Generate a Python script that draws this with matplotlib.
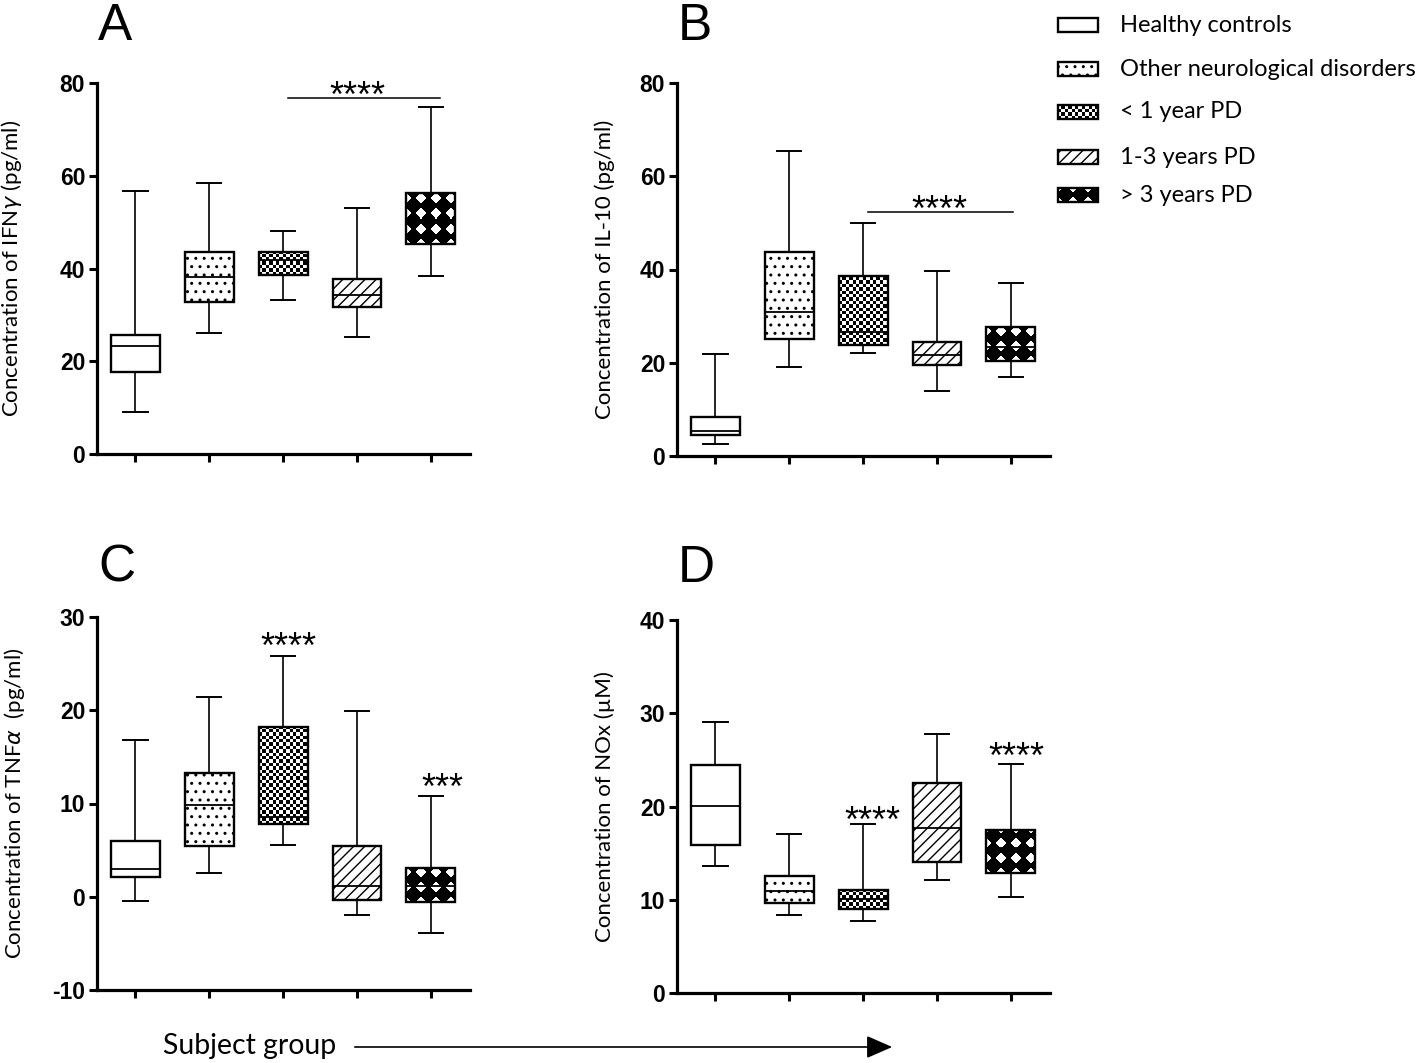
import numpy as np
import matplotlib.pyplot as plt
from matplotlib.patches import Rectangle

# Subject groups (legend order)
groups = ["Healthy controls", "Other neurological disorders", "< 1 year PD",
          "1-3 years PD", "> 3 years PD"]
fills = [None, "..", "checker", "///", "diamond"]

# Box plot summaries: whisker low, Q1, median, Q3, whisker high
ifng_lo = [9.1, 26.0, 33.2, 25.2, 38.4]
ifng_q1 = [17.6, 32.8, 38.6, 31.7, 45.3]
ifng_med = [23.3, 38.1, 41.8, 34.2, 50.2]
ifng_q3 = [25.7, 43.6, 43.6, 37.8, 56.3]
ifng_hi = [56.7, 58.5, 48.1, 53.0, 74.8]

il10_lo = [2.5, 19.1, 22.1, 13.9, 16.9]
il10_q1 = [4.6, 25.2, 23.9, 19.6, 20.4]
il10_med = [5.4, 30.8, 26.7, 21.6, 23.3]
il10_q3 = [8.3, 43.8, 38.6, 24.4, 27.6]
il10_hi = [21.8, 65.4, 49.9, 39.6, 37.0]

tnfa_lo = [-0.5, 2.5, 5.6, -2.0, -3.9]
tnfa_q1 = [2.1, 5.4, 7.8, -0.4, -0.6]
tnfa_med = [3.0, 9.8, 8.6, 1.2, 1.1]
tnfa_q3 = [6.0, 13.3, 18.2, 5.4, 3.1]
tnfa_hi = [16.8, 21.4, 25.8, 19.9, 10.8]

nox_lo = [13.6, 8.4, 7.7, 12.1, 10.3]
nox_q1 = [15.9, 9.7, 9.0, 14.0, 12.9]
nox_med = [20.1, 10.9, 10.1, 17.7, 15.5]
nox_q3 = [24.4, 12.5, 11.0, 22.5, 17.5]
nox_hi = [29.1, 17.1, 18.1, 27.8, 24.6]

# significance: bars (x0, x1, y) and stars (x, y, text)
sig_bars = {"A": [(2.07, 4.13, 76.8)], "B": [(2.07, 4.03, 52.3)], "C": [], "D": []}
sig_stars = {"A": [(3.0, 79.1, "****")], "B": [(3.03, 54.7, "****")],
             "C": [(2.07, 27.7, "****"), (4.15, 12.65, "***")],
             "D": [(2.13, 19.4, "****"), (4.07, 26.3, "****")]}

panels = {
    "A": dict(stats=(ifng_lo, ifng_q1, ifng_med, ifng_q3, ifng_hi),
              ylabel="Concentration of IFN$\\gamma$ (pg/ml)", ylim=(0, 80), step=20),
    "B": dict(stats=(il10_lo, il10_q1, il10_med, il10_q3, il10_hi),
              ylabel="Concentration of IL-10 (pg/ml)", ylim=(0, 80), step=20),
    "C": dict(stats=(tnfa_lo, tnfa_q1, tnfa_med, tnfa_q3, tnfa_hi),
              ylabel="Concentration of TNF$\\alpha$  (pg/ml)", ylim=(-10, 30), step=10),
    "D": dict(stats=(nox_lo, nox_q1, nox_med, nox_q3, nox_hi),
              ylabel="Concentration of NOx (\u00b5M)", ylim=(0, 40), step=10),
}

# layout in pixels: left, top, bottom of each axes, label x, letter position
W, H = 1418, 1063
layout = {"A": (97, 83, 454, -0.196, (98, 40)), "B": (677, 83, 456, -0.166, (678, 40)),
          "C": (97, 617, 990, -0.188, (98, 582)), "D": (677, 620, 993, -0.166, (678, 582))}

label_font = "Lato"
tick_font = "Liberation Sans"

fig = plt.figure(figsize=(W / 100, H / 100), dpi=100)


def texture_fill(ax, patch, kind, zorder=1.9):
    # pixel-sized texture clipped to the box outline
    bb = patch.get_window_extent()
    nx = max(int(round(bb.width)), 1)
    ny = max(int(round(bb.height)), 1)
    U, V = np.meshgrid(np.arange(nx) + 0.5, np.arange(ny) + 0.5)
    if kind == "checker":
        c = 3.4
        img = ((U // c + V // c) % 2).astype(float)
    else:
        s = 15.0
        du = np.abs(U / s - np.round(U / s))
        dv = np.abs(V / s - np.round(V / s))
        img = (du + dv < 0.36).astype(float)
    (x0, y0), (x1, y1) = ax.transData.inverted().transform([[bb.x0, bb.y0], [bb.x1, bb.y1]])
    im = ax.imshow(img, cmap="gray", vmin=0, vmax=1, extent=(x0, x1, y0, y1),
                   origin="lower", aspect="auto", interpolation="nearest", zorder=zorder)
    im.set_clip_path(patch)


def style_patch(ax, patch, fill):
    patch.set_facecolor("white")
    if fill in ("checker", "diamond"):
        patch.set_facecolor("none")
        texture_fill(ax, patch, fill)
    elif fill is not None:
        patch.set_hatch(fill)


for key, p in panels.items():
    left, top, bottom, labx, (lx, ly) = layout[key]
    ax = fig.add_axes([left / W, 1 - bottom / H, 373 / W, (bottom - top) / H])
    lo, q1, med, q3, hi = p["stats"]
    stats = [dict(whislo=lo[i], q1=q1[i], med=med[i], q3=q3[i], whishi=hi[i], fliers=[])
             for i in range(len(groups))]
    res = ax.bxp(stats, positions=range(5), widths=0.66, capwidths=0.33,
                 patch_artist=True, showfliers=False, manage_ticks=False,
                 boxprops=dict(edgecolor="black", linewidth=1.7),
                 whiskerprops=dict(color="black", linewidth=1.2),
                 capprops=dict(color="black", linewidth=1.4),
                 medianprops=dict(color="black", linewidth=1.3))
    ax.set_xlim(-0.52, 4.53)
    ax.set_ylim(*p["ylim"])
    for box, fill in zip(res["boxes"], fills):
        style_patch(ax, box, fill)
    ax.set_xlim(-0.52, 4.53)
    ax.set_ylim(*p["ylim"])

    for x0, x1, y in sig_bars[key]:
        ax.plot([x0, x1], [y, y], color="black", lw=1.1)
    for x, y, s in sig_stars[key]:
        ax.annotate(s, (x, y), xytext=(0, -0.55 * 26), textcoords="offset points",
                    ha="center", va="baseline", fontsize=26, family=tick_font)

    ax.set_xticks(range(5))
    ax.set_xticklabels([])
    yt = np.arange(p["ylim"][0], p["ylim"][1] + 1, p["step"])
    ax.set_yticks(yt, labels=[str(v) for v in yt], fontsize=16.5,
                  fontweight="bold", family=tick_font)
    for s in ["top", "right"]:
        ax.spines[s].set_visible(False)
    for s in ["left", "bottom"]:
        ax.spines[s].set_linewidth(2.3)
    ax.tick_params(direction="out", length=6, width=2.2, pad=2.5)
    ax.set_ylabel(p["ylabel"], family=label_font, fontsize=16)
    ax.yaxis.set_label_coords(labx, 0.5)
    fig.text(lx / W, 1 - ly / H, key, family=tick_font, fontsize=37, va="baseline")

# legend drawn in its own pixel-scaled axes
lax = fig.add_axes([1050 / W, 1 - 220 / H, 368 / W, 220 / H])
lax.set_xlim(1050, 1418)
lax.set_ylim(220, 0)
lax.axis("off")
row_y = [25, 69, 112, 157, 195]
for name, fill, y in zip(groups, fills, row_y):
    rect = Rectangle((1058, y - 7), 40, 14, edgecolor="black", linewidth=1.7, zorder=2)
    lax.add_patch(rect)
    style_patch(lax, rect, fill)
    lax.text(1120, y, name, family=label_font, fontsize=17, va="center", ha="left")
lax.set_xlim(1050, 1418)
lax.set_ylim(220, 0)

# subject group arrow
fig.text(163 / W, 1 - 1046 / H, "Subject group", family=label_font, fontsize=20.4, va="center")
lax.annotate("", xy=(895, H - 1047), xytext=(352, H - 1047), xycoords="figure pixels",
             textcoords="figure pixels", annotation_clip=False,
             arrowprops=dict(arrowstyle="-|>,head_length=0.8,head_width=0.35",
                             mutation_scale=20, color="black", lw=1.2))

plt.savefig("out.png", dpi=100)
